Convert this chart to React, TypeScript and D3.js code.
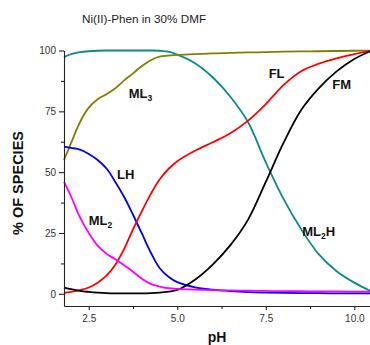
import { useEffect, useRef } from "react";
import * as d3 from "d3";

// pH grid shared by all species
const pH = [1.8, 2.0, 2.25, 2.5, 2.75, 3.0, 3.25, 3.5, 3.75, 4.0, 4.25, 4.5, 4.75, 5.0, 5.5, 6.0, 6.5, 7.0, 7.5, 8.0, 8.5, 9.0, 9.5, 10.0, 10.5];

// % of species
const ML2H = [97.3, 98.5, 99.3, 99.7, 99.9, 100, 100, 100, 100, 100, 100, 99.9, 99.5, 98.3, 94.8, 89, 81, 70.5, 54, 39, 26.5, 16.2, 9.3, 4.6, 0.9];
const ML3 = [55, 62, 70.5, 76.5, 80, 82, 84.5, 87.7, 90.6, 93.6, 96, 97.5, 97.9, 98.2, 98.5, 98.8, 99, 99.2, 99.3, 99.5, 99.6, 99.7, 99.8, 99.9, 100];
const LH = [60.5, 60, 59.3, 57.5, 55, 51.5, 46, 39.8, 32.5, 24.8, 17, 10.6, 7, 4.8, 2.7, 1.7, 1.1, 0.7, 0.5, 0.4, 0.3, 0.3, 0.2, 0.2, 0.2];
const FL = [0.4, 0.8, 1.5, 2.6, 4.6, 7.5, 12, 18.5, 26.5, 34, 41, 47, 51.3, 54.5, 58.8, 62.3, 66, 71.2, 78, 85.8, 91.5, 94.6, 96.8, 98.5, 100];
const FM = [2.6, 1.9, 1.2, 0.8, 0.5, 0.3, 0.2, 0.2, 0.2, 0.2, 0.3, 0.5, 0.9, 1.6, 5.8, 12, 20, 30.5, 46, 62, 75.5, 84.5, 91.4, 96.5, 100];
const ML2 = [46, 40, 31.5, 25, 19.8, 16.5, 14.2, 11.7, 9.1, 6.2, 4.1, 3, 2.3, 2.0, 1.7, 1.5, 1.4, 1.3, 1.2, 1.1, 1.1, 1.0, 1.0, 0.9, 0.9];

const seriesNames = ["ML2H", "ML3", "LH", "FL", "FM", "ML2"];
const seriesValues = [ML2H, ML3, LH, FL, FM, ML2];
const seriesColors = ["#0a8a8a", "#808000", "#0000ff", "#ff0000", "#000000", "#ff00ff"];

const xTicks = [2.5, 5.0, 7.5, 10.0];
const xMinorTicks = [3.75, 6.25, 8.75];
const yTicks = [0, 25, 50, 75, 100];
const yMinorTicks = [12.5, 37.5, 62.5, 87.5];

// curve labels: [main text, subscript, trailing text, pH, value]
const curveLabels: [string, string, string, number, number][] = [
  ["ML", "3", "", 3.63, 80.5],
  ["FL", "", "", 7.58, 88.7],
  ["FM", "", "", 9.38, 84],
  ["LH", "", "", 3.3, 47.2],
  ["ML", "2", "", 2.5, 28.3],
  ["ML", "2", "H", 8.53, 23.7],
];

const App = () => {
  const svgRef = useRef<SVGSVGElement>(null);

  useEffect(() => {
    const svg = d3.select(svgRef.current);
    svg.selectAll("*").remove();

    const x = d3.scaleLinear().domain([1.8, 10.5]).range([64, 372]);
    const y = d3.scaleLinear().domain([-5, 100]).range([306, 50.5]);

    svg
      .append("text")
      .attr("x", 82)
      .attr("y", 23)
      .attr("font-size", 11.7)
      .attr("fill", "#222")
      .text("Ni(II)-Phen in 30% DMF");

    const line = d3
      .line<number>()
      .x((d, i) => x(pH[i]))
      .y((d) => y(d))
      .curve(d3.curveCatmullRom.alpha(0.5));

    seriesValues.forEach((vals, k) => {
      svg
        .append("path")
        .attr("d", line(vals))
        .attr("fill", "none")
        .attr("stroke", seriesColors[k])
        .attr("stroke-width", 1.8)
        .attr("class", seriesNames[k]);
    });

    // y axis
    svg
      .append("g")
      .attr("transform", "translate(64,0)")
      .call(d3.axisLeft(y).tickValues(yTicks).tickSize(5).tickSizeOuter(0).tickFormat(d3.format("d")));
    svg
      .append("g")
      .attr("transform", "translate(64,0)")
      .call(d3.axisLeft(y).tickValues(yMinorTicks).tickSize(3).tickSizeOuter(0).tickFormat(() => ""))
      .select(".domain")
      .remove();

    // x axis
    svg
      .append("g")
      .attr("transform", "translate(0,306)")
      .call(d3.axisBottom(x).tickValues(xTicks).tickSize(4).tickSizeOuter(0).tickPadding(5).tickFormat(d3.format(".1f")));
    svg
      .append("g")
      .attr("transform", "translate(0,306)")
      .call(d3.axisBottom(x).tickValues(xMinorTicks).tickSize(3).tickSizeOuter(0).tickFormat(() => ""))
      .select(".domain")
      .remove();

    svg.selectAll(".domain, .tick line").attr("stroke", "#222").attr("stroke-width", 1.1);
    svg
      .selectAll(".tick text")
      .attr("font-size", 10)
      .attr("fill", "#333")
      .attr("font-family", "Liberation Sans, Arial, sans-serif");

    // axis titles
    svg
      .append("text")
      .attr("transform", "translate(23,183) rotate(-90)")
      .attr("text-anchor", "middle")
      .attr("font-size", 14.5)
      .attr("font-weight", "bold")
      .attr("fill", "#111")
      .text("% OF SPECIES");

    svg
      .append("text")
      .attr("x", 217)
      .attr("y", 342)
      .attr("text-anchor", "middle")
      .attr("font-size", 14)
      .attr("font-weight", "bold")
      .attr("fill", "#111")
      .text("pH");

    // curve labels
    curveLabels.forEach(([main, sub, tail, px, py]) => {
      const t = svg
        .append("text")
        .attr("x", x(px))
        .attr("y", y(py))
        .attr("font-size", 13)
        .attr("font-weight", "bold")
        .attr("fill", "#111");
      t.append("tspan").text(main);
      if (sub) t.append("tspan").attr("font-size", 8.5).attr("dy", 3).text(sub);
      if (tail) t.append("tspan").attr("dy", -3).text(tail);
    });
  }, []);

  return (
    <svg
      ref={svgRef}
      width={370}
      height={345}
      style={{ position: "absolute", left: 0, top: 0, fontFamily: "Liberation Sans, Arial, sans-serif" }}
    />
  );
};

export default App;
